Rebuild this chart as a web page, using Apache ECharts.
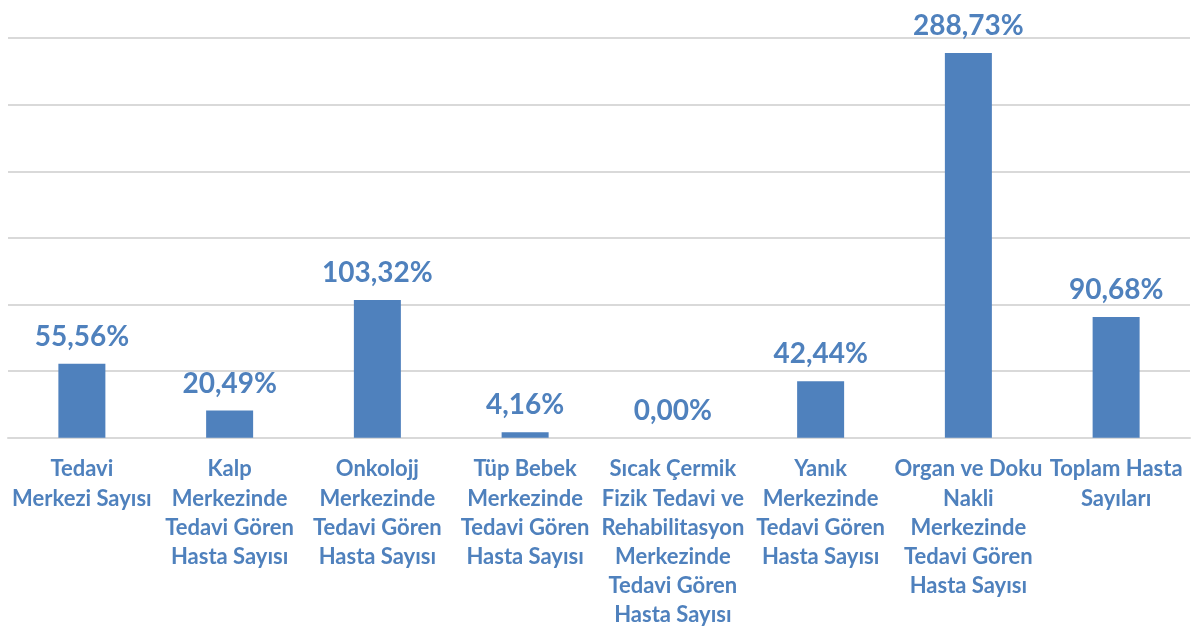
<!DOCTYPE html>
<html>
<head>
<meta charset="utf-8">
<script src="https://cdn.jsdelivr.net/npm/echarts@6/dist/echarts.min.js"></script>
<style>
html,body{margin:0;padding:0;background:#fff;}
#chart{width:1192px;height:630px;}
</style>
</head>
<body>
<div id="chart"></div>
<script>
const categories = [
  "Tedavi\nMerkezi Sayısı",
  "Kalp\nMerkezinde\nTedavi Gören\nHasta Sayısı",
  "Onkolojj\nMerkezinde\nTedavi Gören\nHasta Sayısı",
  "Tüp Bebek\nMerkezinde\nTedavi Gören\nHasta Sayısı",
  "Sıcak Çermik\nFizik Tedavi ve\nRehabilitasyon\nMerkezinde\nTedavi Gören\nHasta Sayısı",
  "Yanık\nMerkezinde\nTedavi Gören\nHasta Sayısı",
  "Organ ve Doku\nNakli\nMerkezinde\nTedavi Gören\nHasta Sayısı",
  "Toplam Hasta\nSayıları"
];
const values = [55.56, 20.49, 103.32, 4.16, 0.00, 42.44, 288.73, 90.68];
const yTicks = [0, 50, 100, 150, 200, 250, 300];

const chart = echarts.init(document.getElementById('chart'), null, {renderer: 'canvas'});
const blue = '#4f81bd';
chart.setOption({
  animation: false,
  grid: {left: 8, right: 2, top: 38, bottom: 191, containLabel: false},
  xAxis: {
    type: 'category',
    data: categories,
    axisLine: {show: true, lineStyle: {color: '#d9d9d9', width: 2}},
    axisTick: {show: false},
    axisLabel: {
      interval: 0,
      margin: 17,
      color: blue,
      fontFamily: 'Lato',
      fontWeight: 'bold',
      fontSize: 22,
      lineHeight: 29.2,
      align: 'center'
    }
  },
  yAxis: {
    type: 'value',
    min: yTicks[0],
    max: yTicks[yTicks.length - 1],
    interval: yTicks[1] - yTicks[0],
    axisLabel: {show: false},
    axisLine: {show: false},
    axisTick: {show: false},
    splitLine: {lineStyle: {color: '#d9d9d9', width: 2}}
  },
  series: [{
    type: 'bar',
    data: values,
    barWidth: 47,
    itemStyle: {color: blue},
    label: {
      show: true,
      position: 'top',
      distance: 13,
      color: blue,
      fontFamily: 'Lato',
      fontWeight: 'bold',
      fontSize: 28,
      formatter: p => p.value.toFixed(2).replace('.', ',') + '%'
    }
  }]
});
</script>
</body>
</html>
